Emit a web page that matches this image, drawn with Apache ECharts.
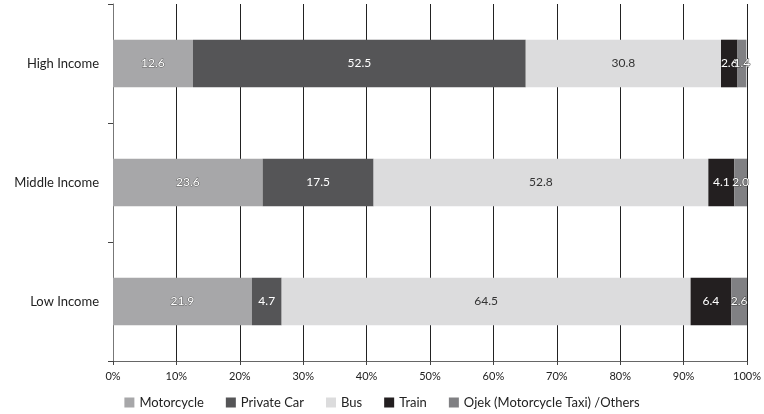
<!DOCTYPE html>
<html>
<head>
<meta charset="utf-8">
<script src="https://cdn.jsdelivr.net/npm/echarts@6/dist/echarts.min.js"></script>
<style>
  html, body { margin: 0; padding: 0; background: #fff; }
  #chart { width: 764px; height: 414px; }
</style>
</head>
<body>
<div id="chart"></div>
<script>
// income groups, top to bottom
const categories = ["High Income", "Middle Income", "Low Income"];
// share of trips (%) per mode
const motorcycle = [12.6, 23.6, 21.9];
const privateCar = [52.5, 17.5, 4.7];
const bus = [30.8, 52.8, 64.5];
const train = [2.6, 4.1, 6.4];
const others = [1.4, 2.0, 2.6];
const xTicks = ["0%", "10%", "20%", "30%", "40%", "50%", "60%", "70%", "80%", "90%", "100%"];

const chart = echarts.init(document.getElementById("chart"));
const font = "Lato, 'Open Sans', sans-serif";

// one bar segment series
const seg = (name, data, color, labelStyle) => ({
  name: name,
  type: "bar",
  stack: "total",
  data: data,
  barWidth: "40%",
  itemStyle: { color: color },
  label: Object.assign({
    show: true,
    position: "inside",
    color: "#fff",
    fontFamily: font,
    fontSize: 12,
    formatter: (p) => p.value.toFixed(1)
  }, labelStyle || {})
});

const option = {
  animation: false,
  textStyle: { fontFamily: font },
  grid: { left: 113, right: 15, top: 4, bottom: 53 },
  legend: {
    bottom: 0,
    itemWidth: 10,
    itemHeight: 10,
    itemGap: 22,
    icon: "rect",
    textStyle: { fontSize: 13, color: "#222", fontFamily: font },
    data: ["Motorcycle", "Private Car", "Bus", "Train", "Ojek (Motorcycle Taxi) /Others"]
  },
  xAxis: {
    type: "value",
    min: 0,
    max: 100,
    interval: 10,
    axisLine: { show: true, lineStyle: { color: "#666" } },
    axisTick: { show: true, length: 4, lineStyle: { color: "#444" } },
    splitLine: { show: true, lineStyle: { color: "#222", width: 1 } },
    axisLabel: {
      color: "#222",
      fontSize: 11,
      margin: 10,
      formatter: (v) => xTicks[Math.round(v / 10)]
    }
  },
  yAxis: {
    type: "category",
    inverse: true,
    data: categories,
    axisLine: { show: true, lineStyle: { color: "#777" } },
    axisTick: { show: true, length: 5, lineStyle: { color: "#444" } },
    axisLabel: { color: "#222", fontSize: 13, margin: 14 }
  },
  series: [
    seg("Motorcycle", motorcycle, "#a7a7a9", { textBorderColor: "#666", textBorderWidth: 1 }),
    seg("Private Car", privateCar, "#555557"),
    seg("Bus", bus, "#dcdcdd", { color: "#333", textBorderWidth: 0 }),
    seg("Train", train, "#231f20"),
    seg("Ojek (Motorcycle Taxi) /Others", others, "#808083", { textBorderColor: "#444", textBorderWidth: 1 })
  ]
};

chart.setOption(option);
</script>
</body>
</html>
